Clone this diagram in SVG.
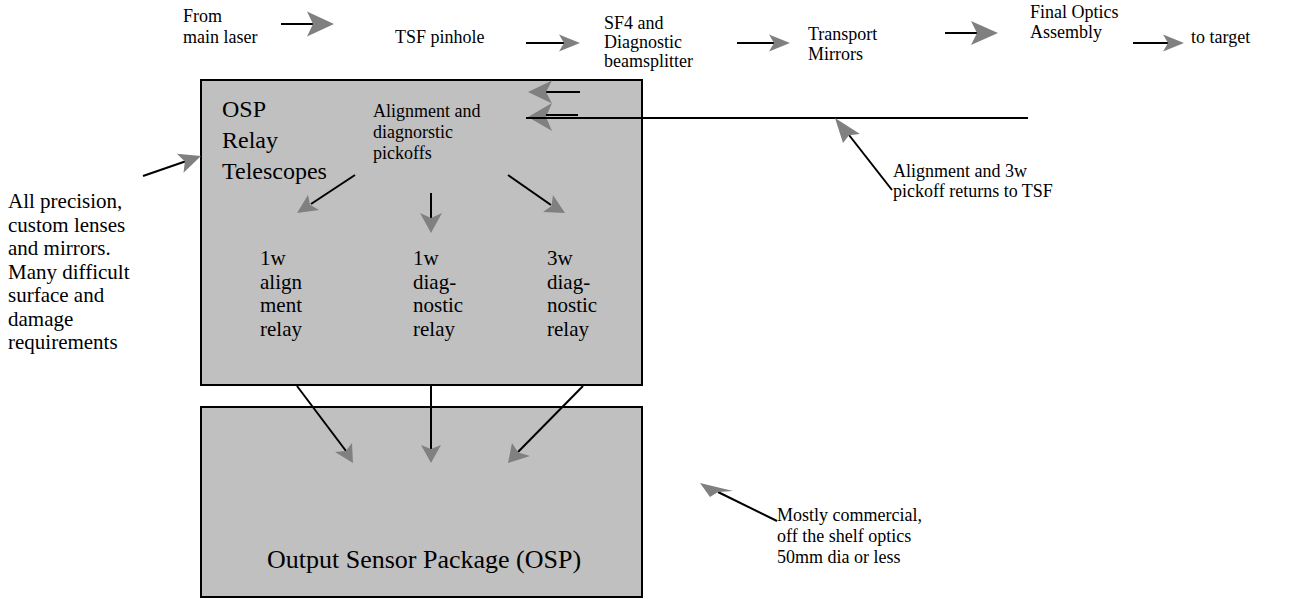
<svg xmlns="http://www.w3.org/2000/svg" width="1289" height="599" viewBox="0 0 1289 599" font-family="'Liberation Serif', 'Times New Roman', 'DejaVu Serif', serif">
<style>
text{font-family:'Liberation Serif','Times New Roman','DejaVu Serif',serif;fill:#000}
.s{font-size:18px}
.m{font-size:21px}
.l{font-size:24px}
.xl{font-size:26px}
.box{fill:#c0c0c0;stroke:#000;stroke-width:2}
.ln{stroke:#000;stroke-width:2;fill:none}
.hd{fill:#808080;stroke:none}
</style>
<rect width="1289" height="599" fill="#fff"/>

<g id="relay-box">
<rect class="box" x="201" y="80" width="441" height="305"/>
<text class="l"><tspan x="222" y="117">OSP</tspan><tspan x="222" y="148">Relay</tspan><tspan x="222" y="179">Telescopes</tspan></text>
</g>
<g id="osp-box">
<rect class="box" x="201" y="407" width="441" height="190"/>
<text class="xl" x="267" y="568">Output Sensor Package (OSP)</text>
</g>

<g id="from-laser"><text class="s"><tspan x="183" y="22">From</tspan><tspan x="183" y="43">main laser</tspan></text></g>
<g id="tsf-pinhole"><text class="s" x="395" y="43">TSF pinhole</text></g>
<g id="sf4"><text class="s"><tspan x="604" y="29">SF4 and</tspan><tspan x="604" y="48">Diagnostic</tspan><tspan x="604" y="67">beamsplitter</tspan></text></g>
<g id="transport"><text class="s"><tspan x="808" y="40">Transport</tspan><tspan x="808" y="60">Mirrors</tspan></text></g>
<g id="final-optics"><text class="s"><tspan x="1030" y="18">Final Optics</tspan><tspan x="1030" y="38">Assembly</tspan></text></g>
<g id="to-target"><text class="s" x="1191" y="43">to target</text></g>
<g id="pickoffs"><text class="s"><tspan x="373" y="117">Alignment and</tspan><tspan x="373" y="138">diagnorstic</tspan><tspan x="373" y="159">pickoffs</tspan></text></g>
<g id="align-relay"><text class="m"><tspan x="260" y="265">1w</tspan><tspan x="260" y="288.5">align</tspan><tspan x="260" y="312">ment</tspan><tspan x="260" y="335.5">relay</tspan></text></g>
<g id="diag1-relay"><text class="m"><tspan x="413" y="265">1w</tspan><tspan x="413" y="288.5">diag-</tspan><tspan x="413" y="312">nostic</tspan><tspan x="413" y="335.5">relay</tspan></text></g>
<g id="diag3-relay"><text class="m"><tspan x="547" y="265">3w</tspan><tspan x="547" y="288.5">diag-</tspan><tspan x="547" y="312">nostic</tspan><tspan x="547" y="335.5">relay</tspan></text></g>
<g id="note-precision"><text class="m"><tspan x="8" y="208">All precision,</tspan><tspan x="8" y="231.5">custom lenses</tspan><tspan x="8" y="255">and mirrors.</tspan><tspan x="8" y="278.5">Many difficult</tspan><tspan x="8" y="302">surface and</tspan><tspan x="8" y="325.5">damage</tspan><tspan x="8" y="349">requirements</tspan></text></g>
<g id="note-returns"><text class="s"><tspan x="893" y="177">Alignment and 3w</tspan><tspan x="893" y="197">pickoff returns to TSF</tspan></text></g>
<g id="note-commercial"><text class="s"><tspan x="777" y="521">Mostly commercial,</tspan><tspan x="777" y="542">off the shelf optics</tspan><tspan x="777" y="563">50mm dia or less</tspan></text></g>

<g id="connectors">
<line class="ln" x1="281" y1="24" x2="314" y2="24"/><polygon class="hd" points="334,24 307,11.5 313,24 307,36.5"/>
<line class="ln" x1="526" y1="43" x2="565" y2="43"/><polygon class="hd" points="580,43 559,34.5 564,43 559,51.5"/>
<line class="ln" x1="737" y1="43" x2="775" y2="43"/><polygon class="hd" points="790,43 769,34.5 774,43 769,51.5"/>
<line class="ln" x1="945" y1="33" x2="978" y2="33"/><polygon class="hd" points="998,33 971,21 977,33 971,45"/>
<line class="ln" x1="1133" y1="43" x2="1169" y2="43"/><polygon class="hd" points="1184,43 1163,34.5 1168,43 1163,51.5"/>
<line class="ln" x1="546" y1="92" x2="580" y2="92"/><polygon class="hd" points="528,92 552,80.5 546,92 552,103.5"/>
<polygon class="hd" points="528,117 552,103 546,117 552,131"/>
<line class="ln" x1="546" y1="115" x2="578" y2="115"/>
<line class="ln" x1="526" y1="118" x2="1028" y2="118"/>
<line class="ln" x1="892" y1="190" x2="849" y2="135"/><polygon class="hd" points="835,118 860,134 849,135.3 843,143"/>
<line class="ln" x1="143" y1="176" x2="185" y2="161.5"/><polygon class="hd" points="201,156 176.9,153.7 184.9,161.5 183.5,172.7"/>
<line class="ln" x1="777" y1="521" x2="718" y2="492"/><polygon class="hd" points="700,483 733,491 718,492 710,497"/>
<line class="ln" x1="355" y1="175" x2="311" y2="204"/><polygon class="hd" points="297,213 308,195 310,204.7 319,210"/>
<line class="ln" x1="431" y1="193" x2="431" y2="218"/><polygon class="hd" points="431,233 420,213 431,218 442,213"/>
<line class="ln" x1="508" y1="175" x2="551" y2="205"/><polygon class="hd" points="565,213 553,195 551.5,205.9 543,212"/>
<line class="ln" x1="297" y1="386" x2="346" y2="451"/><polygon class="hd" points="353,463 335,452 345.7,450.9 352,443"/>
<line class="ln" x1="431" y1="386" x2="431" y2="449"/><polygon class="hd" points="431,463 421,445 431,449 441,445"/>
<line class="ln" x1="583" y1="386" x2="518" y2="452"/><polygon class="hd" points="508,463 512,443 518.2,452.4 530,456"/>
</g>
</svg>
